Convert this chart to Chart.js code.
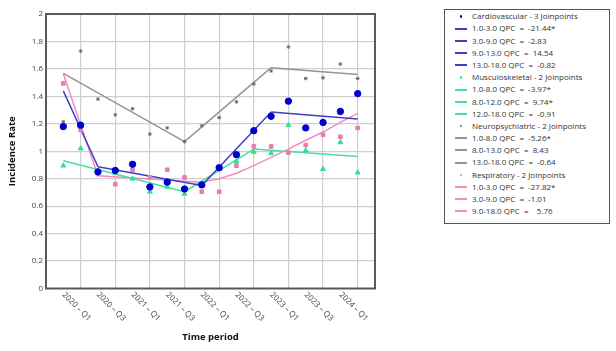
<!DOCTYPE html>
<html>
<head>
<meta charset="utf-8">
<script src="https://cdn.jsdelivr.net/npm/chart.js@4.4.1/dist/chart.umd.min.js"></script>
<style>
  body { margin: 0; background: #fff; }
  #wrap { position: relative; width: 616px; height: 351px; }
  #legend {
    position: absolute; left: 444px; top: 9px; width: 166px; height: 215px;
    border: 1px solid #555; box-sizing: border-box; padding-top: 0.2px;
    font: 8px "Open Sans", sans-serif; color: #333; background: #fff;
  }
  .row { position: relative; height: 12.2px; line-height: 12.2px; white-space: pre; }
  .row .ico { position: absolute; left: 10px; top: 5.2px; width: 12px; height: 2px; }
  .row .dot { position: absolute; left: 14.5px; top: 5px; width: 2.6px; height: 2.6px; border-radius: 50%; }
  .row .txt { position: absolute; left: 27px; top: 0; }
</style>
</head>
<body>
<div id="wrap">
  <canvas id="chart" width="616" height="351"></canvas>
  <div id="legend"></div>
</div>
<script>
const quarters = [
  "2020 – Q1", "2020 – Q2", "2020 – Q3", "2020 – Q4",
  "2021 – Q1", "2021 – Q2", "2021 – Q3", "2021 – Q4",
  "2022 – Q1", "2022 – Q2", "2022 – Q3", "2022 – Q4",
  "2023 – Q1", "2023 – Q2", "2023 – Q3", "2023 – Q4",
  "2024 – Q1", "2024 – Q2"
];
const quarterNo = [1, 2, 3, 4, 5, 6, 7, 8, 9, 10, 11, 12, 13, 14, 15, 16, 17, 18];

// observed rates
const cardioRate = [1.18, 1.19, 0.85, 0.86, 0.905, 0.74, 0.775, 0.725, 0.755, 0.88, 0.975, 1.15, 1.255, 1.365, 1.17, 1.21, 1.29, 1.42];
const muscRate   = [0.895, 1.02, 0.85, 0.84, 0.80, 0.705, 0.74, 0.69, 0.76, 0.87, 0.925, 0.995, 0.985, 1.19, 1.005, 0.87, 1.065, 0.845];
const neuroRate  = [1.215, 1.73, 1.38, 1.265, 1.31, 1.125, 1.17, 1.07, 1.185, 1.245, 1.36, 1.49, 1.585, 1.76, 1.53, 1.535, 1.635, 1.53];
const respRate   = [1.495, 1.155, 0.835, 0.76, 0.865, 0.81, 0.865, 0.81, 0.705, 0.705, 0.895, 1.035, 1.035, 0.99, 1.045, 1.12, 1.105, 1.17];

// joinpoint fitted values (read at joins, plus the curved respiratory tail)
const cardioFitX = [1, 3, 9, 13, 18];
const cardioFitY = [1.44, 0.887, 0.75, 1.286, 1.235];
const muscFitX   = [1, 8, 12, 18];
const muscFitY   = [0.931, 0.705, 1.016, 0.962];
const neuroFitX  = [1, 8, 13, 18];
const neuroFitY  = [1.568, 1.07, 1.609, 1.56];
const respFitX   = [1, 3, 9, 10, 11, 12, 13, 14, 15, 16, 17, 18];
const respFitY   = [1.565, 0.822, 0.775, 0.80, 0.84, 0.895, 0.955, 1.015, 1.08, 1.14, 1.21, 1.276];

const cardioJoins = [1, 3, 9, 13, 18];
const muscJoins   = [1, 8, 12, 18];
const neuroJoins  = [1, 8, 13, 18];
const respJoins   = [1, 3, 9, 18];

const cardioSegs = ["1.0-3.0 QPC  =  -21.44*", "3.0-9.0 QPC  =  -2.83", "9.0-13.0 QPC  =  14.54", "13.0-18.0 QPC  =  -0.82"];
const muscSegs   = ["1.0-8.0 QPC  =  -3.97*", "8.0-12.0 QPC  =  9.74*", "12.0-18.0 QPC  =  -0.91"];
const neuroSegs  = ["1.0-8.0 QPC  =  -5.26*", "8.0-13.0 QPC  =  8.43", "13.0-18.0 QPC  =  -0.64"];
const respSegs   = ["1.0-3.0 QPC  =  -27.82*", "3.0-9.0 QPC  =  -1.01", "9.0-18.0 QPC  =    5.76"];

const series = [
  { name: "Cardiovascular - 3 Joinpoints", rate: cardioRate, fx: cardioFitX, fy: cardioFitY, joins: cardioJoins, segs: cardioSegs,
    mark: "#0000cc", line: "#3e3ec6", style: "circle", radius: 3.2 },
  { name: "Musculoskeletal - 2 Joinpoints", rate: muscRate, fx: muscFitX, fy: muscFitY, joins: muscJoins, segs: muscSegs,
    mark: "#33e090", line: "#48e0a0", style: "triangle", radius: 2.8 },
  { name: "Neuropsychiatric - 2 Joinpoints", rate: neuroRate, fx: neuroFitX, fy: neuroFitY, joins: neuroJoins, segs: neuroSegs,
    mark: "#6a6a6a", line: "#959595", style: "star", radius: 1.9 },
  { name: "Respiratory - 2 Joinpoints", rate: respRate, fx: respFitX, fy: respFitY, joins: respJoins, segs: respSegs,
    mark: "#e67fb0", line: "#f08cc6", style: "rect", radius: 2.6 }
];

// ── datasets ──
const datasets = [];
series.forEach(s => {
  datasets.push({
    type: "scatter",
    label: s.name,
    data: quarterNo.map((q, i) => ({ x: q, y: s.rate[i] })),
    pointStyle: s.style,
    pointRadius: s.radius,
    backgroundColor: s.mark,
    borderColor: s.mark,
    borderWidth: 1,
    order: 1
  });
  for (let k = 0; k < s.joins.length - 1; k++) {
    const pts = [];
    s.fx.forEach((x, i) => {
      if (x >= s.joins[k] && x <= s.joins[k + 1]) pts.push({ x: x, y: s.fy[i] });
    });
    datasets.push({
      type: "line",
      label: s.segs[k],
      data: pts,
      borderColor: s.line,
      borderWidth: 1.5,
      pointRadius: 0,
      fill: false,
      order: 2
    });
  }
});

const frameAndLabels = {
  id: "frameAndLabels",
  afterDraw(chart) {
    const { ctx, chartArea: a, scales: { x } } = chart;
    ctx.save();
    ctx.strokeStyle = "#5a5a5a";
    ctx.lineWidth = 2;
    ctx.strokeRect(a.left, a.top, a.right - a.left, a.bottom - a.top);
    ctx.font = '8px "Open Sans"';
    ctx.fillStyle = "#444";
    ctx.textAlign = "left";
    ctx.textBaseline = "middle";
    quarters.forEach((q, i) => {
      if (i % 2) return;
      const px = x.getPixelForValue(quarterNo[i]);
      ctx.save();
      ctx.translate(px, a.bottom + 5);
      ctx.rotate(Math.PI / 4);
      ctx.fillText(q, 0, 0);
      ctx.restore();
    });
    ctx.restore();
  }
};

new Chart(document.getElementById("chart"), {
  type: "scatter",
  data: { datasets: datasets },
  options: {
    responsive: false,
    animation: false,
    layout: { padding: { top: 14, right: 241, bottom: 0, left: 0 } },
    plugins: { legend: { display: false }, tooltip: { enabled: false } },
    scales: {
      x: {
        type: "linear", min: 0, max: 19,
        afterFit: s => { s.height = 62.5; },
        border: { display: false },
        ticks: { stepSize: 1, display: false },
        grid: {
          drawTicks: false, lineWidth: 1.2,
          color: c => (c.tick.value % 2 === 0 && c.tick.value > 0 && c.tick.value < 19) ? "#cfcfcf" : "transparent"
        },
        title: { display: true, text: "Time period", color: "#111", font: { family: "Open Sans", size: 9.5, weight: "bold" }, padding: { top: 0, bottom: 8 } }
      },
      y: {
        min: 0, max: 2,
        afterFit: s => { s.width = 46; },
        border: { display: false },
        ticks: { stepSize: 0.2, padding: 3, color: "#444", font: { family: "Open Sans", size: 8 }, callback: v => String(+v.toFixed(1)) },
        grid: { drawTicks: false, lineWidth: 1.2, color: c => c.tick.value > 0 && c.tick.value < 2 ? "#cfcfcf" : "transparent" },
        title: { display: true, text: "Incidence Rate", color: "#111", font: { family: "Open Sans", size: 9.5, weight: "bold" }, padding: { top: 7, bottom: 0 } }
      }
    }
  },
  plugins: [frameAndLabels]
});

// ── legend box ──
const legend = document.getElementById("legend");
function addRow(text, color, isHeader) {
  const row = document.createElement("div");
  row.className = "row";
  const ico = document.createElement("span");
  ico.className = isHeader ? "dot" : "ico";
  ico.style.background = color;
  const txt = document.createElement("span");
  txt.className = "txt";
  txt.textContent = text;
  row.appendChild(ico);
  row.appendChild(txt);
  legend.appendChild(row);
}
series.forEach(s => {
  addRow(s.name, s.mark, true);
  s.segs.forEach(t => addRow(t, s.line, false));
});
</script>
</body>
</html>
